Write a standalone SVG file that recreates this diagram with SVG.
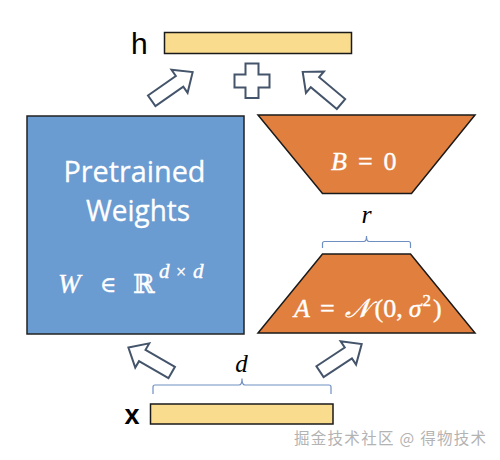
<svg xmlns="http://www.w3.org/2000/svg" width="500" height="460" viewBox="0 0 500 460">
<style>
.bar{fill:#f9dc8e;stroke:#1a1a1a;stroke-width:1.5}
.blk{fill:#6a9bd1;stroke:#222;stroke-width:1.5}
.org{fill:#e1803e;stroke:#1a1a1a;stroke-width:1.5}
.arr{fill:#fff;stroke:#44546a;stroke-width:2;stroke-linejoin:miter}
.brace{fill:none;stroke:#6f8fc2;stroke-width:1.2}
.lbl{font-family:"Liberation Sans",Arial,sans-serif;fill:#000}
.sans{font-family:"Open Sans","Noto Sans",sans-serif;fill:#fff;stroke:#fff;stroke-width:0.3}
.math{font-family:"Liberation Serif","DejaVu Serif",serif;font-style:italic}
.wmath{fill:#fff;stroke:#fff;stroke-width:0.4}
.wm{font-family:"Noto Sans CJK SC","Noto Sans",sans-serif;fill:#b3b3b3;font-size:15.5px}
</style>
<defs>
<polygon id="blockArrow" points="0,-6.5 34,-6.5 34,-14 50,0 34,14 34,6.5 0,6.5"/>
</defs>
<g id="connectors">
<use href="#blockArrow" class="arr" transform="translate(151.7,100.8) rotate(-35)"/>
<use href="#blockArrow" class="arr" transform="translate(341,104) rotate(-140)"/>
<use href="#blockArrow" class="arr" transform="translate(171.7,372.5) rotate(-150)"/>
<use href="#blockArrow" class="arr" transform="translate(320,371.7) rotate(-33.5)"/>
</g>
<g id="plus">
<polygon class="arr" points="245.5,63.5 258.5,63.5 258.5,74.5 269.5,74.5 269.5,87.5 258.5,87.5 258.5,98 245.5,98 245.5,87.5 234.5,87.5 234.5,74.5 245.5,74.5"/>
</g>
<g id="h">
<rect class="bar" x="164.5" y="32.5" width="187" height="21"/>
<text class="lbl" x="131" y="54" font-size="30">h</text>
</g>
<g id="x">
<rect class="bar" x="150.5" y="404" width="182.5" height="20"/>
<text class="lbl" x="124.5" y="424" font-size="27" font-weight="bold">x</text>
</g>
<g id="W">
<rect class="blk" x="27" y="116" width="217" height="218"/>
<text class="sans" x="134.5" y="182" font-size="29" text-anchor="middle" textLength="142" lengthAdjust="spacingAndGlyphs">Pretrained</text>
<text class="sans" x="138" y="221" font-size="29" text-anchor="middle" textLength="104" lengthAdjust="spacingAndGlyphs">Weights</text>
<text class="wmath" font-family="Liberation Serif,DejaVu Serif,serif"><tspan x="58" y="293" font-style="italic" font-size="27">W</tspan><tspan x="100" y="292" font-family="DejaVu Serif,serif" font-size="22">∈</tspan><tspan x="133" y="293" font-family="DejaVu Serif,serif" font-size="26">ℝ</tspan><tspan x="159" y="278" font-style="italic" font-size="21">d</tspan><tspan x="176" y="278" font-size="18">×</tspan><tspan x="193" y="278" font-style="italic" font-size="21">d</tspan></text>
</g>
<g id="B">
<polygon class="org" points="258,115 475,115 411.5,193.5 322.5,193.5"/>
<text class="math wmath" x="331" y="169.5" font-size="26">B<tspan font-style="normal" dx="11">=</tspan><tspan font-style="normal" dx="11">0</tspan></text>
</g>
<g id="A">
<polygon class="org" points="322.5,254 410.5,254 475,333 258,333"/>
<text class="math wmath" x="294" y="317" font-size="26">A<tspan font-style="normal" dx="10">=</tspan><tspan dx="10" font-family="DejaVu Serif,serif">𝒩</tspan><tspan font-style="normal" dx="5">(0,</tspan><tspan dx="6">σ</tspan><tspan font-style="normal" font-size="17" dy="-11" dx="1">2</tspan><tspan font-style="normal" dy="11" dx="2">)</tspan></text>
</g>
<g id="rank">
<path class="brace" d="M322.5,248 V243.5 Q322.5,241.5 324.5,241.5 H364 Q366.5,241.5 366.5,236 Q366.5,241.5 369,241.5 H408.5 Q410.5,241.5 410.5,243.5 V248"/>
<text class="math" x="366.5" y="223" font-size="26" text-anchor="middle" fill="#000">r</text>
</g>
<g id="dim">
<path class="brace" d="M153,394 V387 Q153,385 155,385 H239 Q242,385 242,378.5 Q242,385 245,385 H329 Q331,385 331,387 V394"/>
<text class="math" x="241.5" y="372" font-size="25" text-anchor="middle" fill="#000">d</text>
</g>
<text class="wm" x="294" y="443.5" textLength="192">掘金技术社区 @ 得物技术</text>
</svg>
